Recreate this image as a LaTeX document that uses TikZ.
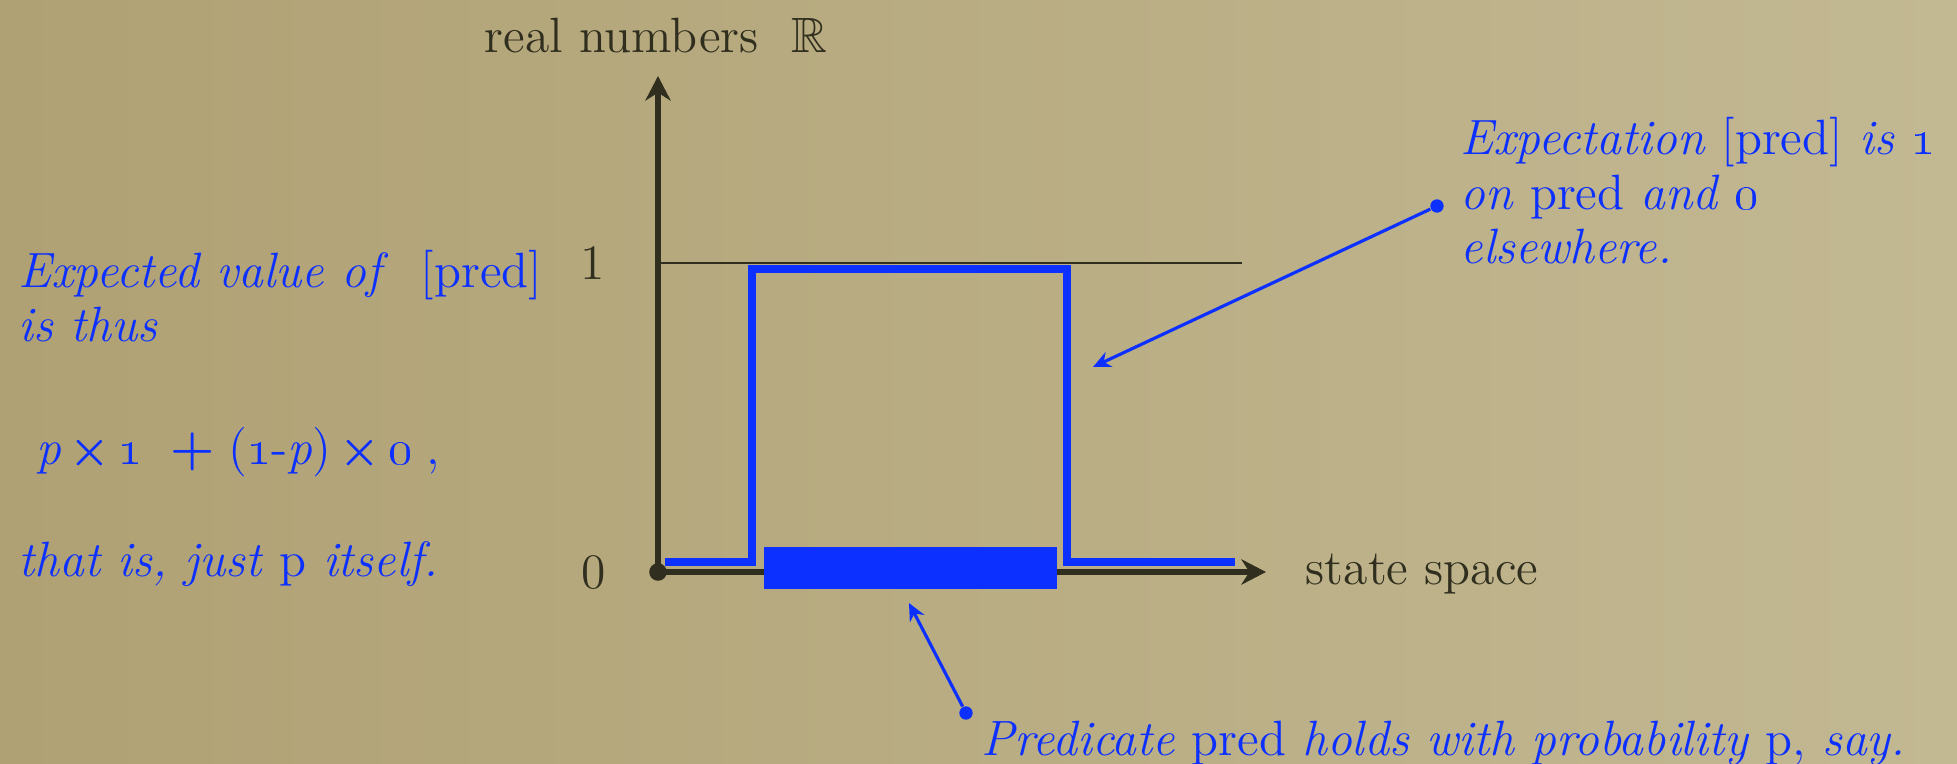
\documentclass[tikz,border=0pt]{standalone}
\usepackage{amsmath,amssymb}
\usepackage{tikz}
\usetikzlibrary{arrows.meta,positioning}
\definecolor{paperdark}{RGB}{176,161,116}
\definecolor{paperlight}{RGB}{194,184,146}
\definecolor{inkdark}{RGB}{48,46,30}
\definecolor{predblue}{RGB}{12,48,255}
\tikzset{
  lbl/.style={font=\fontsize{14.1}{15.6}\selectfont,text=inkdark,inner sep=0pt,anchor=base west},
  note/.style={lbl,text=predblue,align=left},
  axisline/.style={line width=1.5pt,draw=inkdark,-{Stealth[length=7pt,width=7.2pt]}},
  pointer/.style={line width=0.9pt,draw=predblue,-{Stealth[length=5pt,width=4.6pt]}},
  pdot/.style={circle,fill=predblue,inner sep=0pt,minimum size=3.8pt},
  odot/.style={circle,fill=inkdark,inner sep=0pt,minimum size=5pt},
  stepline/.style={line width=2pt,draw=predblue,line join=miter},
  levelline/.style={line width=0.75pt,draw=inkdark}
}

\begin{document}
\begin{tikzpicture}[x=0.01cm,y=-0.01cm]
  % paper
  \useasboundingbox (0,0) rectangle (1957,764);
  \shade[left color=paperdark,right color=paperlight] (0,0) rectangle (1957,764);

  % axes
  \node[odot] (origin) at (658,572) {};
  \coordinate (ytip) at (658,76);
  \coordinate (xtip) at (1266,572);
  \draw[axisline] (origin.center) -- (ytip);
  \draw[axisline] (origin.center) -- (xtip);
  \node[lbl] (reals) at (484,53) {real numbers\ \ $\mathbb{R}$};
  \node[lbl] (states) at (1305,585) {state space};
  \node[lbl,anchor=base] (zero) at (594,588) {0};
  \node[lbl,anchor=base] (one) at (593,280) {1};
  \draw[levelline] (658,263) -- (1242,263);

  % indicator of pred
  \draw[stepline] (665,562) -- (752,562) -- (752,269) -- (1067,269) -- (1067,562) -- (1235,562);
  \fill[predblue] (764,547) rectangle (1057,589);

  % left remarks (base = last line)
  \node[note] (expval) at (18,342) {\textit{Expected value of}\ \ [pred]\\\textit{is thus}};
  \node[note] (formula) at (36,465) {\textit{p}\,\scalebox{0.9}{$\boldsymbol{\times}$}\,\oldstylenums{1}\;\;$\boldsymbol{+}$\;(\oldstylenums{1}-\textit{p})\,\scalebox{0.9}{$\boldsymbol{\times}$}\,\oldstylenums{0}\;,};
  \node[note] (itself) at (18,577) {\textit{that is, just} p \textit{itself.}};

  % pointers
  \node[note] (expect) at (1460,264) {\textit{Expectation} [pred] \textit{is \oldstylenums{1}}\\\textit{on} pred \textit{and \oldstylenums{0}}\\\textit{elsewhere.}};
  \node[pdot] (expdot) at (1437,206) {};
  \coordinate (exptip) at (1093,367);
  \draw[pointer] (expdot) -- (exptip);

  \node[note] (predicate) at (981,755) {\textit{Predicate} pred \textit{holds with probability} p, \textit{say.}};
  \node[pdot] (preddot) at (966,713) {};
  \coordinate (predtip) at (909,603);
  \draw[pointer] (preddot) -- (predtip);
\end{tikzpicture}
\end{document}
